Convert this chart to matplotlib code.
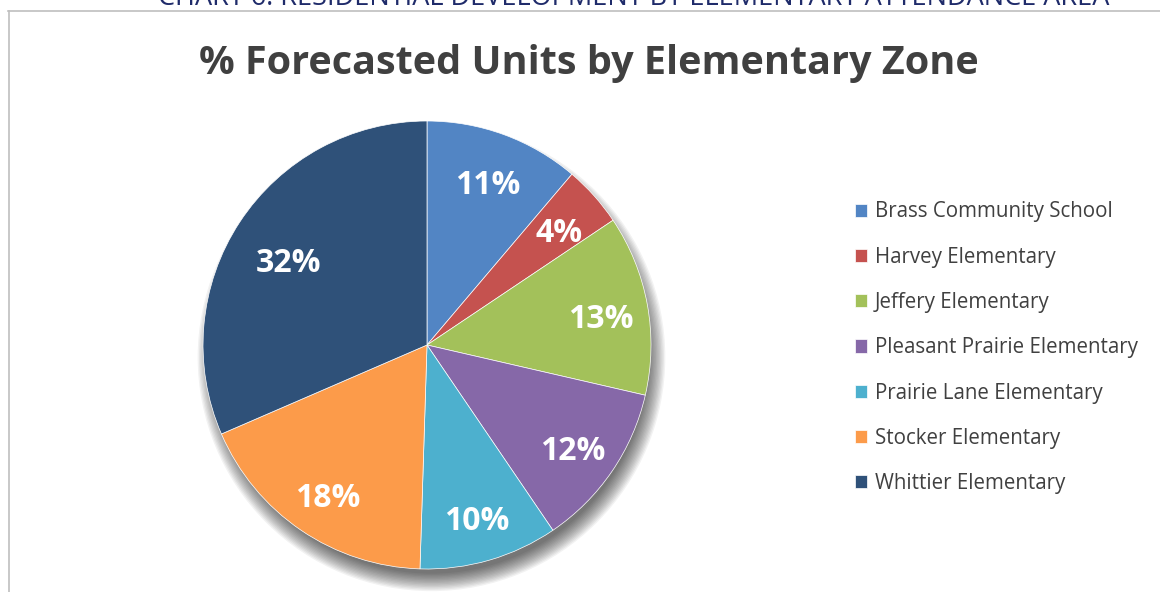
import matplotlib.pyplot as plt
from matplotlib.patches import Circle
from matplotlib.lines import Line2D

# data (share of forecasted units, %)
schools = ['Brass Community School', 'Harvey Elementary', 'Jeffery Elementary',
           'Pleasant Prairie Elementary', 'Prairie Lane Elementary',
           'Stocker Elementary', 'Whittier Elementary']
shares = [11.2, 4.4, 13.0, 11.9, 10.0, 18.0, 31.5]
colors = ['#5285C4', '#C5524F', '#A3C15A', '#8668A8', '#4DB0CE', '#FC9B4A', '#2F5179']

title = '% Forecasted Units by Elementary Zone'
page_heading = 'CHART 6: RESIDENTIAL DEVELOPMENT BY ELEMENTARY ATTENDANCE AREA'

plt.rcParams['font.family'] = ['Open Sans', 'DejaVu Sans']

W, H = 1160, 592
fig = plt.figure(figsize=(W / 100, H / 100), dpi=100)

# chart frame (cut off at right and bottom)
fig.add_artist(Line2D([8.5 / W, 8.5 / W], [1 - 11 / H, 0], color='#bfbfbf', lw=1.2))
fig.add_artist(Line2D([8 / W, 1], [1 - 11 / H, 1 - 11 / H], color='#bfbfbf', lw=1.2))

# heading of the page above, mostly cropped
fig.text(634 / W, 1 - 5 / H, page_heading, ha='center', va='baseline',
         fontsize=19.5, color='#1F2B6A')

fig.text(589 / W, 1 - 74 / H, title, ha='center', va='baseline',
         fontsize=28.5, fontweight='bold', color='#404040')

cx, cy, r = 427, 345, 224
ax = fig.add_axes([(cx - r) / W, (H - cy - r) / H, 2 * r / W, 2 * r / H])
ax.axis('off')

# soft drop shadow
for i in range(14):
    ax.add_patch(Circle((0.02, -0.055), 0.96 + 0.006 * (14 - i), color='#000000',
                        alpha=0.05, lw=0, zorder=0, clip_on=False))

wedges, texts, autotexts = ax.pie(shares, colors=colors, startangle=90, counterclock=False,
                                  autopct='%.0f%%', pctdistance=0.79, radius=1,
                                  wedgeprops=dict(linewidth=0.5, edgecolor='white'),
                                  textprops=dict(color='white', fontsize=23, fontweight='bold'))
for w in wedges:
    w.set_zorder(2)
    w.set_clip_on(False)
for t in autotexts:
    t.set_zorder(3)
    x, y = t.get_position()
    t.set_position((x, y - 0.03))
# the big slice label sits a bit further in
x, y = autotexts[-1].get_position()
autotexts[-1].set_position((x + 0.04, y - 0.04))

ax.set_xlim(-1, 1)
ax.set_ylim(-1, 1)
ax.set_aspect('equal')

leg = fig.legend(wedges, schools, loc='upper left', bbox_to_anchor=(836 / W, 1 - 183 / H),
                 frameon=False, fontsize=14.8, handlelength=0.6, handleheight=0.6,
                 handletextpad=0.4, labelspacing=1.18, labelcolor='#404040')

fig.savefig('out.png', dpi=100, facecolor='white')
